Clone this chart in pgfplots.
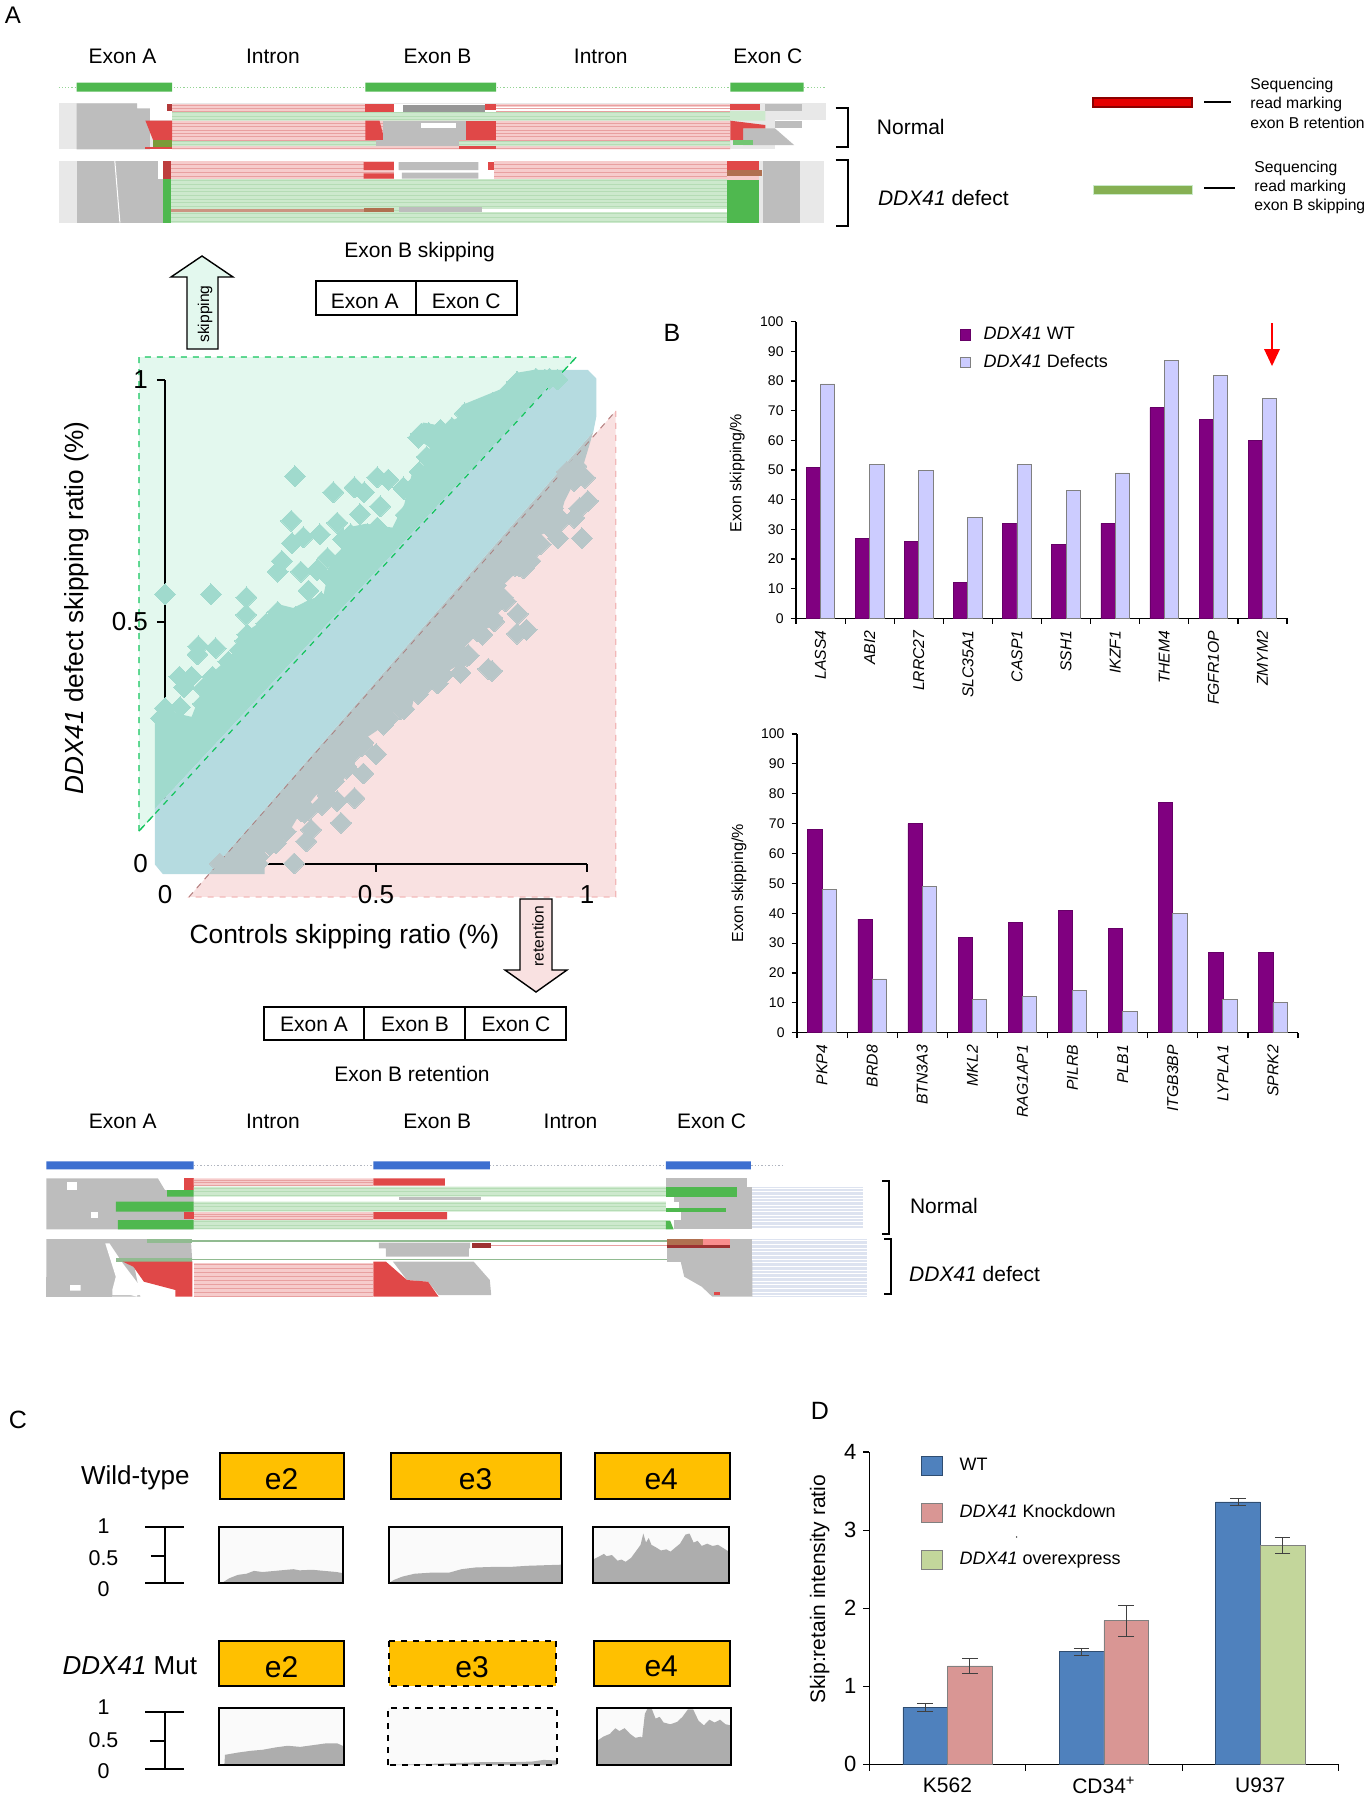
\documentclass[border=0pt]{standalone}
\usepackage{pgfplots}
\pgfplotsset{compat=1.18}
\usepackage{fontspec}
\setmainfont{Liberation Sans}
\newcommand\fs[1]{\fontsize{#1}{#1}\selectfont}
\definecolor{wt}{HTML}{800080}
\definecolor{dfc}{HTML}{CCCCFF}
\definecolor{dbl}{HTML}{4F81BD}
\definecolor{drd}{HTML}{D99694}
\definecolor{dgr}{HTML}{C3D69B}
\definecolor{gbg}{HTML}{E3F8EE}
\definecolor{pbg}{HTML}{F9E1E1}
\definecolor{gdash}{HTML}{12C45C}
\definecolor{pdash}{HTML}{F2B8B8}
\definecolor{band}{HTML}{B5DBE0}
\definecolor{gdia}{HTML}{A0DACD}
\definecolor{ydia}{HTML}{B8C6C8}
\definecolor{igrey}{HTML}{BDBDBD}
\definecolor{ilg}{HTML}{E8E8E8}
\definecolor{ired}{HTML}{E04848}
\definecolor{ipink}{HTML}{F6CCCC}
\definecolor{ipl}{HTML}{E8A0A0}
\definecolor{ilgreen}{HTML}{CDE9CD}
\definecolor{igl}{HTML}{B5DCB5}
\definecolor{igreen}{HTML}{4FB84F}
\definecolor{ibrown}{HTML}{B07050}
\definecolor{iblue}{HTML}{3C6FD0}
\definecolor{ilb}{HTML}{DDE3F0}
\definecolor{orng}{HTML}{FFC000}
\definecolor{cov}{HTML}{ADADAD}
\newcommand\rows[6]{\foreach \yy in {#3,\the\numexpr#3+#5\relax,...,#4}{\draw[#6,line width=.45pt](#1,\yy)--(#2,\yy);}}
\newcommand\cov[6]{%
\begin{axis}[at={(#1pt,-#2pt)},anchor=south west,scale only axis,width=#3pt,height=28.33pt,
 xmin=0,xmax=100,ymin=0,ymax=1,ticks=none,clip=true,axis on top,
 axis background/.style={fill=white!98!black},
 axis line style={black,line width=1pt,#4},#5]
\addplot[fill=cov,draw=none] coordinates {#6} \closedcycle;
\end{axis}}
\begin{document}
\begin{tikzpicture}
\path[use as bounding box] (0pt,0pt) rectangle (685pt,-900pt);
% ---------- panel letters
\begin{scope}[x=.5pt,y=-.5pt]
\node[font=\fs{12}] at (13,15) {A};
\node[font=\fs{12.5}] at (672,333) {B};
\node[font=\fs{12.5}] at (18,1420) {C};
\node[font=\fs{12.5}] at (820,1411) {D};
\end{scope}
% ---------- panel A, upper tracks
\begin{scope}[x=.3189pt,y=-.16667pt]
\foreach \a/\b in {192/Exon A,428/Intron,686/Exon B,942/Intron,1204/Exon C}{\node[font=\fs{10.5}] at (\a,168) {\b};}
\draw[igreen!60,densely dotted,line width=.6pt] (92,262)--(1295,262);
\fill[igreen] (120,248) rectangle (270,275) (573,248) rectangle (778,275) (1145,248) rectangle (1260,275);
% normal
\fill[ilg] (92,310) rectangle (1295,448);
\fill[white] (215,310) rectangle (270,360);
\fill[igrey] (120,310) rectangle (215,325) (120,325) rectangle (235,448);
\fill[igrey] (1200,312) rectangle (1258,333);
\fill[white] (1215,360) rectangle (1295,448);
\fill[igrey] (1215,362) rectangle (1258,385);
\fill[ipink] (270,312) rectangle (1145,333) (270,362) rectangle (1145,420) (270,438) rectangle (1145,448);
\fill[white] (778,320) rectangle (1145,333);
\fill[ilgreen] (270,333) rectangle (1200,362) (270,420) rectangle (1145,438);
\rows{270}{1145}{317}{333}{8}{ipl}
\rows{270}{1145}{370}{420}{10}{ipl}
\rows{270}{1145}{338}{362}{10}{igl}
\rows{270}{1145}{424}{438}{10}{igl}
\draw[ipl,line width=.45pt](270,444)--(1145,444);
\fill[ired] (573,312) rectangle (617,335);
\fill[white] (617,312) rectangle (778,335);
\fill[igrey!80!black] (632,316) rectangle (760,335);
\fill[ired] (760,312) rectangle (778,330);
\fill[ired] (573,362) -- (595,362) -- (603,420) -- (573,420) -- cycle;
\fill[igrey] (600,362) rectangle (730,420);
\fill[white] (660,368) rectangle (715,385);
\fill[ired] (730,362) rectangle (778,420);
\fill[igrey] (590,420) rectangle (720,438);
\fill[ired] (720,437) rectangle (778,448);
\fill[ired] (228,362) -- (270,362) -- (270,420) -- (240,420) -- cycle;
\fill[ibrown!70!green] (240,420) rectangle (270,440);
\fill[ired] (228,440) rectangle (270,448);
\fill[ired!80!black] (262,312) rectangle (270,333);
\fill[ired] (1145,312) rectangle (1192,330);
\fill[igrey] (1165,385) -- (1215,385) -- (1245,435) -- (1165,435) -- cycle;
\fill[ired] (1145,362) -- (1200,375) -- (1200,385) -- (1165,385) -- (1165,420) -- (1145,420) -- cycle;
\fill[igreen!80] (1150,420) rectangle (1180,435);
% defect
\fill[ilg] (92,482) rectangle (1292,668);
\fill[igrey] (120,482) rectangle (248,668);
\fill[igrey] (248,536) rectangle (255,668);
\draw[white,line width=.5pt] (180,482)--(188,668);
\fill[white] (248,482) rectangle (255,536);
\fill[ired!85!black] (255,484) rectangle (268,536);
\fill[igreen] (255,536) rectangle (268,668);
\fill[ipink] (268,484) rectangle (1140,536);
\fill[ilgreen] (268,536) rectangle (1140,668);
\rows{268}{1140}{492}{536}{12}{ipl}
\rows{268}{1140}{542}{668}{11}{igl}
\fill[ired] (570,486) rectangle (618,510) (570,520) rectangle (618,536);
\fill[white] (618,484) rectangle (775,536);
\fill[igrey] (625,486) rectangle (750,510) (630,518) rectangle (750,536);
\fill[ired] (765,486) rectangle (775,510);
\fill[ibrown!60!ipink] (268,628) rectangle (570,636);
\fill[ibrown] (570,625) rectangle (618,636);
\fill[igrey] (625,622) rectangle (755,636);
\fill[white] (755,626) rectangle (1140,636);
\fill[ired] (1140,484) rectangle (1190,510);
\fill[ibrown] (1140,510) rectangle (1195,528);
\fill[ipink] (1140,528) rectangle (1190,540);
\fill[igreen] (1140,540) rectangle (1190,668);
\fill[igrey] (1197,482) rectangle (1254,668);
\draw[black,line width=1pt] (1310,323)--(1330,323)--(1330,440)--(1310,440);
\draw[black,line width=1pt] (1310,480)--(1330,480)--(1330,678)--(1310,678);
\node[font=\fs{10.5}] at (1428,380) {Normal};
\node[font=\fs{10.5},anchor=west,inner sep=0] at (1376,595) {\textit{DDX41} defect};
\node[font=\fs{10.5}] at (658,755) {Exon B skipping};
\draw[black,line width=.9pt] (495,843) rectangle (652,945) (652,843) rectangle (810,945);
\node[font=\fs{10.5}] at (572,905) {Exon A};
\node[font=\fs{10.5}] at (731,905) {Exon C};
\end{scope}
% ---------- legend top right and arrows and retention boxes
\begin{scope}[x=.5pt,y=-.5pt]
\fill[red!90!black,draw=red!55!black,line width=.7pt] (1093,98) rectangle (1192,107);
\draw[black,line width=.7pt] (1204,102)--(1231,102);
\foreach \y/\t in {85/Sequencing,104/read marking,123/exon B retention}{\node[font=\fs{7.85},anchor=west,inner sep=0] at (1250,\y) {\t};}
\fill[igreen!50!olive!80,draw=igreen!30!white,line width=.5pt] (1093,185) rectangle (1192,194);
\draw[black,line width=.7pt] (1204,188)--(1235,188);
\foreach \y/\t in {168/Sequencing,187/read marking,206/exon B skipping}{\node[font=\fs{7.85},anchor=west,inner sep=0] at (1254,\y) {\t};}
\draw[black,line width=.7pt,fill=gbg] (187,349)--(187,277)--(171,277)--(202,256)--(233,277)--(218,277)--(218,349)--cycle;
\node[font=\fs{7.8},rotate=90] at (205,314) {skipping};
\draw[black,line width=.7pt,fill=pbg] (520,899)--(520,970)--(505,970)--(536,992)--(567,970)--(552,970)--(552,899)--cycle;
\node[font=\fs{7.8},rotate=90] at (538,936) {retention};
\draw[black,line width=.9pt] (264,1007) rectangle (364,1040) (364,1007) rectangle (465,1040) (465,1007) rectangle (566,1040);
\node[font=\fs{10.5}] at (314,1024) {Exon A};
\node[font=\fs{10.5}] at (415,1024) {Exon B};
\node[font=\fs{10.5}] at (516,1024) {Exon C};
\node[font=\fs{10.5}] at (412,1074) {Exon B retention};
\draw[red,line width=1pt] (1272,323)--(1272,352);
\fill[red] (1264,349)--(1280,349)--(1272,366)--cycle;
\fill[black] (1016.6,1537) circle (.7);
\end{scope}
% ---------- panel A, lower tracks
\begin{scope}[shift={(0pt,-545pt)},x=.35088pt,y=-.16667pt]
\foreach \a/\b in {175/Exon A,389/Intron,623/Exon B,813/Intron,1014/Exon C}{\node[font=\fs{10.5}] at (\a,93) {\b};}
\draw[ilb!80!black,densely dotted,line width=.7pt] (276,227)--(1118,227);
\fill[iblue] (66,214) rectangle (276,238) (532,214) rectangle (698,238) (949,214) rectangle (1070,238);
% normal
\fill[igrey] (66,265) -- (225,265) -- (235,300) -- (276,300) -- (276,418) -- (66,418) -- cycle;
\fill[white] (95,275) rectangle (110,300);
\fill[white] (130,365) rectangle (140,385);
\fill[ired] (262,265) rectangle (276,300);
\fill[ipink] (276,265) rectangle (532,287) (276,366) rectangle (532,390);
\rows{276}{532}{270}{287}{8}{ipl}
\rows{276}{532}{372}{390}{8}{ipl}
\fill[ired] (532,265) rectangle (634,287) (532,366) rectangle (637,388);
\fill[igrey] (949,265) rectangle (1065,290);
\fill[ilgreen] (276,290) rectangle (949,320) (276,335) rectangle (949,365) (276,390) rectangle (949,418);
\rows{276}{949}{295}{320}{10}{igl}
\rows{276}{949}{340}{365}{10}{igl}
\rows{276}{949}{395}{418}{10}{igl}
\fill[igrey] (568,322) rectangle (685,331);
\fill[igreen] (238,300) rectangle (276,320) (165,335) rectangle (276,365) (168,390) rectangle (276,418);
\fill[ired] (262,366) rectangle (276,388);
\fill[ilb] (1072,290) rectangle (1230,418);
\rows{1072}{1230}{295}{418}{10}{white}
\fill[igrey] (960,290) rectangle (1072,418);
\fill[igreen] (949,290) rectangle (1050,320);
\fill[white] (949,335) rectangle (968,355);
\fill[igreen] (949,355) rectangle (1035,365);
\fill[white] (949,365) rectangle (970,390);
\fill[igreen] (949,392) -- (955,392) -- (960,418) -- (949,418) -- cycle;
% defect
\fill[igrey] (66,447) -- (272,447) -- (274,515) -- (190,515) -- (200,620) -- (66,620) -- cycle;
\fill[white] (150,460) -- (156,460) -- (175,520) -- (200,590) -- (195,620) -- (160,600) -- (165,560) -- cycle;
\fill[igrey] (66,560) rectangle (160,620);
\fill[white] (100,585) rectangle (115,602) (160,600) rectangle (205,615);
\fill[igrey!60!igreen] (210,447) rectangle (274,458);
\draw[igrey!60!igreen,line width=.8pt] (274,453)--(950,453);
\fill[igrey] (540,458) rectangle (670,475) (550,475) rectangle (668,500);
\fill[ired!70!black] (672,460) rectangle (700,474);
\draw[ipl,line width=.7pt] (700,467)--(950,467);
\fill[igrey!60!igreen] (165,503) rectangle (274,515);
\draw[igrey!60!igreen,line width=.8pt] (274,509)--(955,509);
\fill[ired] (175,515) -- (274,515) -- (274,620) -- (250,620) -- (250,600) -- (205,575) -- (190,530) -- cycle;
\fill[ipink] (276,520) rectangle (532,620);
\rows{276}{532}{524}{620}{12}{ipl}
\fill[igrey] (560,515) -- (675,515) -- (698,570) -- (700,615) -- (625,615) -- (610,575) -- (580,570) -- cycle;
\fill[ired] (532,515) -- (550,515) -- (580,570) -- (610,575) -- (625,620) -- (532,620) -- cycle;
\fill[ilb] (1072,447) rectangle (1235,620);
\rows{1072}{1235}{452}{620}{11}{white}
\fill[igrey] (950,447) rectangle (1072,515);
\fill[igrey] (970,515) -- (1072,515) -- (1072,620) -- (1015,620) -- (1000,590) -- (975,560) -- cycle;
\fill[ibrown] (950,447) rectangle (1002,465);
\fill[ipink!70!red] (1002,447) rectangle (1040,465);
\fill[ired!70!black] (950,465) rectangle (1040,474);
\fill[ired] (1018,605) rectangle (1026,615);
\draw[black,line width=1pt] (1257,272)--(1267,272)--(1267,432)--(1257,432);
\draw[black,line width=1pt] (1260,448)--(1270,448)--(1270,612)--(1260,612);
\node[font=\fs{10.5}] at (1345,348) {Normal};
\node[font=\fs{10.5},anchor=west,inner sep=0] at (1295,552) {\textit{DDX41} defect};
\end{scope}
% ---------- panel C schematic
\begin{scope}[shift={(0pt,-700pt)},x=.24876pt,y=-.16667pt]
\node[font=\fs{13}] at (272,234) {Wild-type};
\node[font=\fs{13}] at (261,798) {\textit{DDX41} Mut};
\tikzset{ebox/.style={fill=orng,draw=black,line width=1pt}}
\draw[ebox] (443,158) rectangle (692,298);
\draw[ebox] (785,158) rectangle (1128,298);
\draw[ebox] (1195,158) rectangle (1467,298);
\draw[ebox] (441,722) rectangle (691,858);
\draw[ebox,dashed] (781,722) rectangle (1118,858);
\draw[ebox] (1194,722) rectangle (1468,858);
\foreach \a/\y/\t in {566/238/e2,956/238/e3,1329/238/e4,566/800/e2,949/800/e3,1329/800/e4}{\node[font=\fs{15}] at (\a,\y) {\t};}
\draw[black,line width=1pt] (332,380)--(332,550) (292,380)--(370,380) (303,467)--(332,467) (292,550)--(370,550);
\draw[black,line width=1pt] (332,935)--(332,1107) (292,935)--(370,935) (301,1023)--(332,1023) (292,1107)--(370,1107);
\foreach \y/\t in {377/1,473/0.5,568/0,920/1,1021/0.5,1113/0}{\node[font=\fs{10.7}] at (208,\y) {\t};}
\end{scope}
% ---------- coverage tracks of panel C
\cov{109.7}{791.67}{61.7}{}{}{(0,0)(3,.02)(8,.09)(15,.15)(22,.17)(28,.22)(35,.2)(45,.22)(55,.24)(60,.25)(65,.23)(75,.24)(85,.22)(95,.2)(100,.18)}
\cov{194.3}{791.67}{86.8}{}{}{(0,0)(3,.06)(8,.12)(15,.17)(25,.19)(35,.19)(42,.25)(50,.28)(60,.29)(70,.29)(80,.31)(90,.32)(100,.33)}
\cov{296.5}{791.67}{67.95}{}{}{(0,.42)(5,.48)(8,.52)(10,.48)(14,.5)(18,.4)(21,.42)(24,.38)(28,.45)(32,.58)(35,.68)(37,.88)(39,.72)(41,.8)(43,.68)(46,.64)(50,.58)(54,.6)(57,.56)(60,.62)(64,.7)(68,.86)(71,.88)(74,.72)(77,.75)(80,.66)(84,.7)(88,.66)(92,.68)(96,.62)(100,.56)}
\cov{109.7}{882.5}{62.2}{}{}{(0,0)(4,0)(4.5,.18)(15,.22)(25,.25)(35,.27)(45,.31)(55,.34)(65,.32)(75,.35)(85,.38)(95,.38)(100,.33)}
\cov{193.8}{882.5}{84.8}{dashed}{}{(0,0)(10,.01)(25,.02)(40,.035)(55,.05)(70,.05)(85,.06)(92,.09)(100,.08)}
\cov{298.25}{882.5}{67.15}{}{}{(0,.42)(5,.5)(10,.55)(14,.65)(17,.6)(21,.65)(25,.55)(29,.48)(33,.5)(34,.48)(36,.9)(38,1)(41,1)(44,.82)(47,.85)(50,.75)(55,.72)(60,.76)(64,.85)(68,.98)(72,.98)(76,.78)(80,.7)(84,.8)(88,.75)(92,.8)(96,.72)(100,.7)}
% ---------- scatter: the two shaded triangles
\begin{axis}[at={(82.5pt,-431.75pt)},anchor=south west,scale only axis,width=211pt,height=242pt,
 xmin=0,xmax=1,ymin=0,ymax=1,clip=false,hide axis]
\addplot[fill=pbg,draw=pdash,dashed,line width=.6pt] coordinates {(1.068,.935)(1.068,-.069)(.057,-.069)} --cycle;
\addplot[fill=gbg,draw=gdash,dashed,line width=.6pt] coordinates {(-.0616,.067)(-.0616,1.0465)(.975,1.0465)} --cycle;
\end{axis}
% ---------- scatter: axes and events
\begin{axis}[at={(82.5pt,-431.75pt)},anchor=south west,scale only axis,width=211pt,height=242pt,
 xmin=0,xmax=1,ymin=0,ymax=1,clip=false,axis lines=left,axis line style={-,black,line width=1pt},
 xtick={0,0.5,1},ytick={0,0.5,1},xticklabels={0,0.5,1},yticklabels={0,0.5,1},
 tick align=outside,major tick length=4pt,tick style={black,line width=1pt},
 /pgf/number format/assume math mode=true,
 tick label style={font=\fs{13}},xticklabel shift=3.5pt,yticklabel shift=1pt,
 xlabel={Controls skipping ratio (\%)},ylabel={\textit{DDX41} defect skipping ratio (\%)},
 every axis x label/.style={at={(axis description cs:0.425,-0.1506)},anchor=center,font=\fs{13.2}},
 every axis y label/.style={at={(axis description cs:-0.2085,0.528)},anchor=center,rotate=90,font=\fs{13.1}}]
% retention-side events (dense part, outline)
\addplot[fill=ydia,draw=none] coordinates {(.102,-.022)(.236,-.022)(.236,.022)(.286,.054)(.313,.093)(.358,.141)(.422,.172)(.449,.204)(.462,.251)(.503,.275)(.53,.299)(.549,.323)(.585,.323)(.598,.37)(.648,.386)(.694,.409)(.712,.449)(.739,.473)(.784,.496)(.793,.568)(.83,.599)(.875,.639)(.888,.678)(.929,.694)(.947,.749)(.993,.828)(1.015,.892)} --cycle;
\addplot[only marks,color=ydia,mark=square*,mark size=3.7pt,mark options={rotate=45,fill=ydia,draw=ydia,line width=0pt}] coordinates {
(.306,0)(.335,.046)(.346,.07)(.417,.084)(.449,.135)(.408,.129)(.372,.121)(.47,.186)(.5,.226)(.517,.287)(.567,.319)(.617,.37)(.646,.372)(.7,.394)(.766,.402)(.775,.398)(.716,.429)(.752,.473)(.834,.475)(.857,.483)(.836,.516)(.807,.542)(.775,.508)(.866,.625)(.83,.615)(.931,.672)(.988,.672)(.97,.714)(.982,.734)(1.002,.749)(.995,.797)(.916,.718)(.952,.809)(.286,.066)(.263,.042)(.222,.014)(.322,.109)(.44,.224)
(.13,.0)(.18,.0)(.22,.0)(.34,.11)(.4,.17)(.43,.2)(.47,.25)(.53,.3)(.6,.35)(.66,.39)(.72,.43)(.78,.5)(.8,.55)(.85,.61)(.89,.66)(.94,.71)(.97,.79)
(.975,.821)(.92,.734)(.911,.694)(.875,.651)(.839,.615)(.784,.575)(.775,.528)(.739,.481)(.703,.425)(.594,.366)(.558,.319)(.521,.291)(.467,.243)(.431,.196)(.385,.141)(.331,.105)(.249,.038)};
% skipping-side events (dense part, outline)
\addplot[fill=gdia,draw=none] coordinates {(-.024,.113)(-.024,.307)(-.003,.334)(.023,.311)(.063,.303)(.086,.354)(.122,.402)(.163,.433)(.181,.473)(.222,.496)(.267,.536)(.304,.528)(.34,.544)(.376,.556)(.39,.615)(.422,.655)(.431,.694)(.476,.702)(.539,.694)(.567,.742)(.585,.805)(.635,.836)(.626,.86)(.589,.884)(.612,.911)(.657,.904)(.698,.923)(.703,.947)(.748,.963)(.793,.979)(.834,1.014)(.875,1.02)(.946,1.02)} --cycle;
\addplot[only marks,color=gdia,mark=square*,mark size=3.7pt,mark options={rotate=45,fill=gdia,draw=gdia,line width=0pt}] coordinates {
(0,.556)(.109,.556)(.193,.55)(.192,.514)(.079,.449)(.12,.445)(.077,.432)(.034,.386)(.063,.386)(.045,.364)(0,.321)(.036,.323)(.267,.603)(.277,.625)(.322,.603)(.36,.606)(.299,.708)(.301,.662)(.328,.674)(.308,.8)(.399,.767)(.449,.777)(.472,.767)(.503,.798)(.529,.793)(.565,.777)(.367,.68)(.408,.704)(.462,.722)(.51,.738)(.34,.564)
(-.01,.3)(.03,.29)(.06,.28)(.09,.33)(.12,.38)(.16,.41)(.19,.46)(.22,.47)(.27,.51)(.31,.51)(.37,.54)(.39,.59)(.42,.63)(.44,.68)(.48,.68)(.54,.67)(.57,.72)(.59,.78)(.635,.81)(.62,.84)(.6,.88)(.625,.89)(.66,.88)(.7,.9)(.71,.93)(.75,.94)(.8,.96)(.835,.995)(.88,1)(.9,1)(.93,1)
(.607,.888)(.653,.896)(.68,.9)(.721,.923)(.757,.939)(.775,.951)(.834,.994)(.879,1.002)(.911,1.002)(.603,.809)(.567,.773)(.503,.694)(.422,.67)(.385,.631)(.267,.52)(.24,.496)(.195,.473)(.177,.441)(.15,.417)(.113,.386)(.091,.362)};
% band of non-significant events
\addplot[fill=band,draw=none] coordinates {(-.024,-.002)(-.005,-.022)(.102,-.022)(1.015,.892)(1.022,.923)(1.022,1.002)(1.002,1.02)(.946,1.02)(-.024,.113)};
\addplot[gdash,dashed,line width=.6pt] coordinates {(-.0616,.067)(.975,1.0465)};
\addplot[pdash!70!black,dashed,line width=.4pt] coordinates {(.057,-.069)(1.068,.935)};
\end{axis}
% ---------- panel B upper
\begin{axis}[at={(398pt,-309.15pt)},anchor=south west,scale only axis,width=245.5pt,height=148.3pt,
 xmin=0,xmax=10,ymin=0,ymax=100,axis lines=left,axis line style={-,black,line width=.7pt},
 xtick={0.5,1.5,...,9.5},minor xtick={0,1,...,10},ytick={0,10,...,100},
 xticklabels={LASS4,ABI2,LRRC27,SLC35A1,CASP1,SSH1,IKZF1,THEM4,FGFR1OP,ZMYM2},
 major x tick style={draw=none},tick align=outside,major tick length=2.7pt,minor tick length=2.7pt,
 tick style={black,line width=.6pt},
 /pgf/number format/assume math mode=true,
 xticklabel style={rotate=90,anchor=east,font=\fs{7.85}\itshape},yticklabel style={font=\fs{7}},
 ylabel={Exon skipping/\%},
 every axis y label/.style={at={(axis description cs:-0.1195,0.49)},anchor=center,rotate=90,font=\fs{8}},
 legend style={at={(axis description cs:0.329,1.003)},anchor=north west,draw=none,fill=none,font=\fs{9},row sep=2pt,inner sep=1pt,/tikz/every odd column/.append style={column sep=4.5pt}},
 legend cell align=left,
 legend image code/.code={\path[#1] (0pt,-2.6pt) rectangle (5pt,2.7pt);}]
\addplot[ybar,bar width=7.15pt,bar shift=-3.575pt,fill=wt,draw=wt!80!black,line width=.3pt] coordinates {(.5,51)(1.5,27)(2.5,26)(3.5,12)(4.5,32)(5.5,25)(6.5,32)(7.5,71)(8.5,67)(9.5,60)};
\addplot[ybar,bar width=7.15pt,bar shift=3.575pt,fill=dfc,draw=gray,line width=.4pt] coordinates {(.5,79)(1.5,52)(2.5,50)(3.5,34)(4.5,52)(5.5,43)(6.5,49)(7.5,87)(8.5,82)(9.5,74)};
\addlegendentry{\textit{DDX41} WT}
\addlegendentry{\textit{DDX41} Defects}
\end{axis}
% ---------- panel B lower
\begin{axis}[at={(398.5pt,-516.35pt)},anchor=south west,scale only axis,width=250.5pt,height=149.35pt,
 xmin=0,xmax=10,ymin=0,ymax=100,axis lines=left,axis line style={-,black,line width=.7pt},
 xtick={0.5,1.5,...,9.5},minor xtick={0,1,...,10},ytick={0,10,...,100},
 xticklabels={PKP4,BRD8,BTN3A3,MKL2,RAG1AP1,PILRB,PLB1,ITGB3BP,LYPLA1,SPRK2},
 major x tick style={draw=none},tick align=outside,major tick length=2.7pt,minor tick length=2.7pt,
 tick style={black,line width=.6pt},
 /pgf/number format/assume math mode=true,
 xticklabel style={rotate=90,anchor=east,font=\fs{7.85}\itshape},yticklabel style={font=\fs{7}},
 ylabel={Exon skipping/\%},
 every axis y label/.style={at={(axis description cs:-0.1158,0.5)},anchor=center,rotate=90,font=\fs{8}}]
\addplot[ybar,bar width=7.15pt,bar shift=-3.575pt,fill=wt,draw=wt!80!black,line width=.3pt] coordinates {(.5,68)(1.5,38)(2.5,70)(3.5,32)(4.5,37)(5.5,41)(6.5,35)(7.5,77)(8.5,27)(9.5,27)};
\addplot[ybar,bar width=7.15pt,bar shift=3.575pt,fill=dfc,draw=gray,line width=.4pt] coordinates {(.5,48)(1.5,18)(2.5,49)(3.5,11)(4.5,12)(5.5,14)(6.5,7)(7.5,40)(8.5,11)(9.5,10)};
\end{axis}
% ---------- panel D
\begin{axis}[at={(434.65pt,-882.15pt)},anchor=south west,scale only axis,width=234.6pt,height=156.15pt,
 xmin=0,xmax=3,ymin=0,ymax=4,axis lines=left,axis line style={-,black,line width=.7pt},
 xtick={.5,1.5,2.5},minor xtick={0,1,2,3},ytick={0,1,2,3,4},
 xticklabels={K562,CD34\textsuperscript{+},U937},
 major x tick style={draw=none},tick align=outside,major tick length=3pt,minor tick length=3.3pt,
 tick style={black,line width=.6pt},
 /pgf/number format/assume math mode=true,
 xticklabel style={font=\fs{10.5}},yticklabel style={font=\fs{11}},
 ylabel={Skip:retain intensity ratio},
 every axis y label/.style={at={(axis description cs:-0.1055,0.56)},anchor=center,rotate=90,font=\fs{10.5}},
 legend style={at={(axis description cs:0.105,1.001)},anchor=north west,draw=none,fill=none,font=\fs{9},row sep=11.7pt,inner sep=1pt,/tikz/every odd column/.append style={column sep=6.2pt}},
 legend cell align=left,
 legend image code/.code={\path[#1] (0pt,-4.6pt) rectangle (10.7pt,4.6pt);}]
\addplot[ybar,bar width=22.3pt,bar shift=0pt,fill=dbl,draw=dbl!60!black,line width=.4pt,
 error bars/.cd,y dir=both,y explicit,error bar style={black!75,line width=.5pt},error mark options={rotate=90,mark size=3.9pt,black!75,line width=.5pt}]
 coordinates {(.3574,.73) +- (0,.05) (1.3574,1.44) +- (0,.045) (2.3574,3.36) +- (0,.05)};
\addlegendentry{WT}
\addplot[ybar,bar width=22.3pt,bar shift=0pt,fill=drd,draw=gray,line width=.4pt,
 error bars/.cd,y dir=both,y explicit,error bar style={black!75,line width=.5pt},error mark options={rotate=90,mark size=3.9pt,black!75,line width=.5pt}]
 coordinates {(.6426,1.26) +- (0,.095) (1.6426,1.84) +- (0,.2)};
\addlegendentry{\textit{DDX41} Knockdown}
\addplot[ybar,bar width=22.3pt,bar shift=0pt,fill=dgr,draw=gray,line width=.4pt,
 error bars/.cd,y dir=both,y explicit,error bar style={black!75,line width=.5pt},error mark options={rotate=90,mark size=3.9pt,black!75,line width=.5pt}]
 coordinates {(2.6426,2.8) +- (0,.1)};
\addlegendentry{\textit{DDX41} overexpress}
\end{axis}
\end{tikzpicture}
\end{document}
